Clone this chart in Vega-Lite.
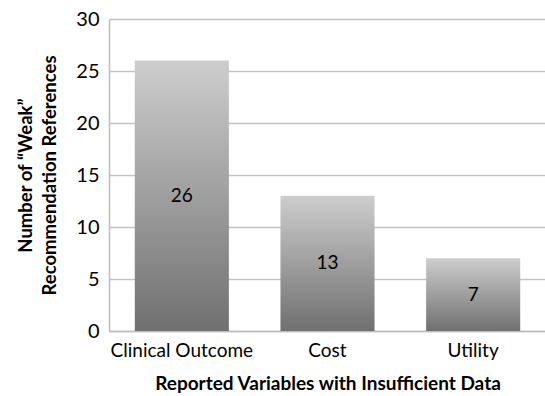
{
  "$schema": "https://vega.github.io/schema/vega-lite/v6.json",
  "autosize": "none",
  "width": 437,
  "height": 312,
  "padding": {"left": 109, "top": 19, "right": 0, "bottom": 65},
  "background": "white",
  "config": {
    "font": "Lato",
    "view": {"stroke": null}
  },
  "data": {
    "values": [
      {"variable": "Clinical Outcome", "count": 26},
      {"variable": "Cost", "count": 13},
      {"variable": "Utility", "count": 7}
    ]
  },
  "encoding": {
    "x": {
      "field": "variable",
      "type": "nominal",
      "sort": null,
      "scale": {"paddingInner": 0.354, "paddingOuter": 0.177},
      "axis": {
        "title": "Reported Variables with Insufficient Data",
        "titleFont": "Lato",
        "titleFontSize": 19,
        "titleFontWeight": "bold",
        "titleColor": "black",
        "titlePadding": 14,
        "labelAngle": 0,
        "labelFontSize": 19,
        "labelColor": "black",
        "labelPadding": 10,
        "ticks": false,
        "domainColor": "#bdbdbd",
        "domainWidth": 1.5
      }
    }
  },
  "layer": [
    {
      "mark": {
        "type": "bar",
        "fill": {
          "gradient": "linear",
          "x1": 0, "y1": 0, "x2": 0, "y2": 1,
          "stops": [
            {"offset": 0, "color": "#cdcdcd"},
            {"offset": 1, "color": "#707070"}
          ]
        }
      },
      "encoding": {
        "y": {
          "field": "count",
          "type": "quantitative",
          "scale": {"domain": [0, 30]},
          "axis": {
            "title": ["Number of “Weak”", "Recommendation References"],
            "titleFont": "Lato",
            "titleFontSize": 18.5,
            "titleFontWeight": "bold",
            "titleColor": "black",
            "titleLineHeight": 24,
            "titlePadding": 16,
            "values": [0, 5, 10, 15, 20, 25, 30],
            "labelFontSize": 20,
            "labelColor": "black",
            "labelPadding": 10,
            "ticks": false,
            "gridColor": "#c4c4c4",
            "gridWidth": 1.5,
            "domainColor": "#bdbdbd",
            "domainWidth": 1.5
          }
        }
      }
    },
    {
      "transform": [{"calculate": "datum.count / 2", "as": "mid"}],
      "mark": {"type": "text", "fontSize": 19, "color": "black", "baseline": "middle"},
      "encoding": {
        "y": {"field": "mid", "type": "quantitative"},
        "text": {"field": "count", "type": "quantitative"}
      }
    }
  ]
}
